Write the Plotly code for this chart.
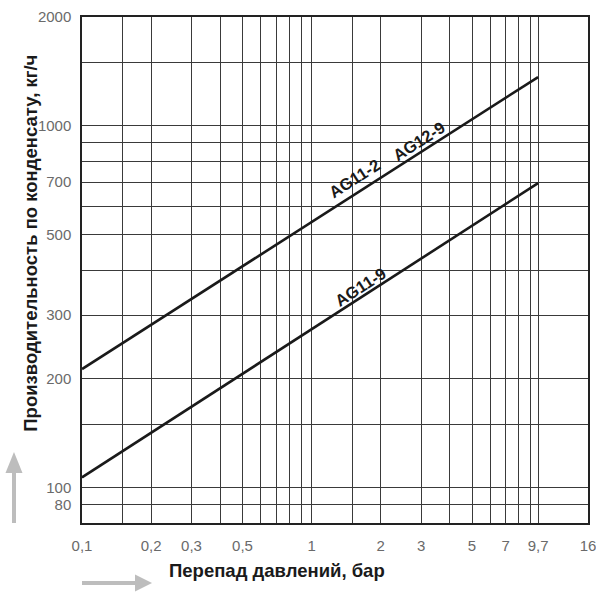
import plotly.graph_objects as go
import math

# ---- data ----
x_points = [0.1, 9.7]
ag11_2_ag12_9 = [213, 1365]
ag11_9 = [107, 695]

x_grid_vals = [0.1, 0.15, 0.2, 0.3, 0.4, 0.5, 0.6, 0.7, 0.8, 0.9, 1, 1.5, 2, 3, 4, 5, 6, 7, 8, 9, 9.7, 16]
x_grid_text = ["0,1", "", "0,2", "0,3", "", "0,5", "", "", "", "", "1", "", "2", "3", "", "5", "", "7", "", "", "9,7", "16"]

y_grid_vals = [90, 100, 150, 200, 300, 400, 500, 600, 700, 800, 900, 1000, 1500, 2000]
y_grid_text = ["80", "100", "", "200", "300", "", "500", "", "700", "", "", "1000", "", "2000"]

x_range = [0.1, 16]
y_range = [80, 2000]

series_labels = ["AG11-2", "AG12-9", "AG11-9"]

tick_font = dict(family="Liberation Sans, Arial, sans-serif", size=15, color="#6a6a6a")
label_font = dict(family="Liberation Sans, Arial, sans-serif", size=16.5, color="#1a1a1a", weight="bold")
title_font = dict(family="Liberation Sans, Arial, sans-serif", size=18.5, color="#1a1a1a", weight="bold")

fig = go.Figure()
for yv in (ag11_2_ag12_9, ag11_9):
    fig.add_trace(go.Scatter(x=x_points, y=yv, mode="lines",
                             line=dict(color="#1a1a1a", width=2.6),
                             showlegend=False, hoverinfo="skip"))

fig.update_xaxes(type="log", range=[math.log10(x_range[0]), math.log10(x_range[1])],
                 tickmode="array", tickvals=x_grid_vals, ticktext=x_grid_text,
                 showgrid=True, gridcolor="#3a3a3a", gridwidth=1,
                 showline=True, linecolor="#222", linewidth=1.5, mirror=True,
                 ticks="", ticklabelstandoff=8, tickfont=tick_font, zeroline=False,
                 automargin=False, ticklabeloverflow="allow")
fig.update_yaxes(type="log", range=[math.log10(y_range[0]), math.log10(y_range[1])],
                 tickmode="array", tickvals=y_grid_vals, ticktext=y_grid_text,
                 showgrid=True, gridcolor="#3a3a3a", gridwidth=1,
                 showline=True, linecolor="#222", linewidth=1.5, mirror=True,
                 ticks="", ticklabelstandoff=6, tickfont=tick_font, zeroline=False,
                 automargin=False, ticklabeloverflow="allow")

ang = -32.6
fig.add_annotation(x=0.189, y=2.856, xref="x", yref="y", text=series_labels[0],
                   showarrow=False, textangle=ang, font=label_font)
fig.add_annotation(x=0.468, y=2.958, xref="x", yref="y", text=series_labels[1],
                   showarrow=False, textangle=ang, font=label_font)
fig.add_annotation(x=0.211, y=2.555, xref="x", yref="y", text=series_labels[2],
                   showarrow=False, textangle=ang, font=label_font)

# axis titles
fig.add_annotation(x=-0.1265, y=0.553, xref="paper", yref="paper",
                   text="Производительность по конденсату, кг/ч", textangle=-90,
                   showarrow=False, font=title_font)
fig.add_annotation(x=0.168, y=-0.1186, xref="paper", yref="paper", xanchor="left",
                   text="Перепад давлений, бар", showarrow=False, font=title_font)

# gray arrows
arrow_col = "#bdbdbd"
fig.add_shape(type="line", xref="paper", yref="paper", x0=-0.1344, x1=-0.1344, y0=0.0, y1=0.10,
              line=dict(color=arrow_col, width=4))
fig.add_shape(type="path", xref="paper", yref="paper",
              path="M -0.1512,0.0988 L -0.1176,0.0988 L -0.1344,0.1403 Z",
              fillcolor=arrow_col, line=dict(width=0))
fig.add_shape(type="line", xref="paper", yref="paper", x0=0.0, x1=0.106, y0=-0.1186, y1=-0.1186,
              line=dict(color=arrow_col, width=4))
fig.add_shape(type="path", xref="paper", yref="paper",
              path="M 0.1047,-0.1018 L 0.1047,-0.1354 L 0.1383,-0.1186 Z",
              fillcolor=arrow_col, line=dict(width=0))

fig.update_layout(width=596, height=595, margin=dict(l=82, r=8, t=17, b=72),
                  plot_bgcolor="white", paper_bgcolor="white")
fig.write_html("out.html", config={"displayModeBar": False},
               post_script="document.body.style.margin='0';document.body.style.overflow='hidden';")
